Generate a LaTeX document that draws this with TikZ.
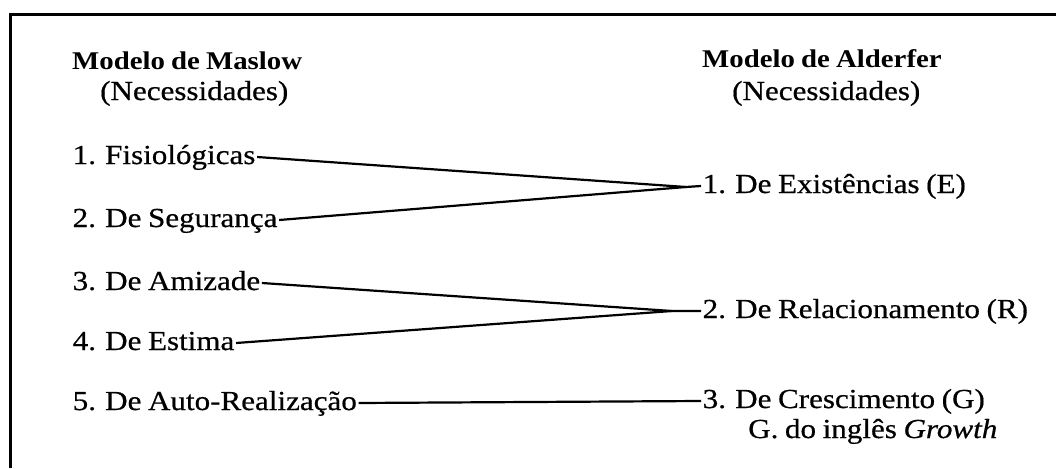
\documentclass[tikz,border=0pt]{standalone}
\usepackage{fontspec}
\setmainfont[FakeStretch=1.13, WordSpace=0.85, UprightFeatures={FakeBold=0.6}, ItalicFeatures={FakeBold=0.6}]{Liberation Serif}
\begin{document}
\begin{tikzpicture}[x=1pt,y=-1pt,
  lbl/.style={anchor=base west, inner sep=0pt, inner xsep=1.5pt, text height=14pt, text depth=0pt, font=\fontsize{27.5}{33}\selectfont},
  head/.style={anchor=base west, inner sep=0pt, font=\fontsize{25.5}{30}\selectfont\bfseries},
  sub/.style={anchor=base west, inner sep=0pt, font=\fontsize{27.5}{33}\selectfont},
  link/.style={line width=2.2pt, line join=round},
  frame/.style={line width=3pt}]
\useasboundingbox (0,0) rectangle (1056,468);
\draw[frame] (10,468) -- (10,15) -- (1056,15);
% headers
\node[head] (hm) at (72,70) {Modelo de Maslow};
\node[sub] (hmn) at (100,100) {(Necessidades)};
\node[head] (ha) at (702,68) {Modelo de Alderfer};
\node[sub] (han) at (732,100) {(Necessidades)};
% left column
\node[lbl] (m1) at (71,164) {1. Fisiológicas};
\node[lbl] (m2) at (71,227) {2. De Segurança};
\node[lbl] (m3) at (71,290) {3. De Amizade};
\node[lbl] (m4) at (71,350) {4. De Estima};
\node[lbl] (m5) at (71,410) {5. De Auto-Realização};
% right column
\node[lbl] (a1) at (701,193) {1. De Existências (E)};
\node[lbl] (a2) at (701,318) {2. De Relacionamento (R)};
\node[lbl] (a3) at (701,408) {3. De Crescimento (G)};
\node[sub] (a3b) at (748,438) {G. do inglês \textit{Growth}};
% junctions
\coordinate (j1) at (686,187);
\coordinate (j2) at (672,311);
% connectors
\draw[link] (m1.east) -- (j1) -- (a1.west);
\draw[link] (m2.east) -- (j1);
\draw[link] (m3.east) -- (j2) -- (a2.west);
\draw[link] (m4.east) -- (j2);
\draw[link] (m5.east) -- (a3.west);
\end{tikzpicture}
\end{document}
